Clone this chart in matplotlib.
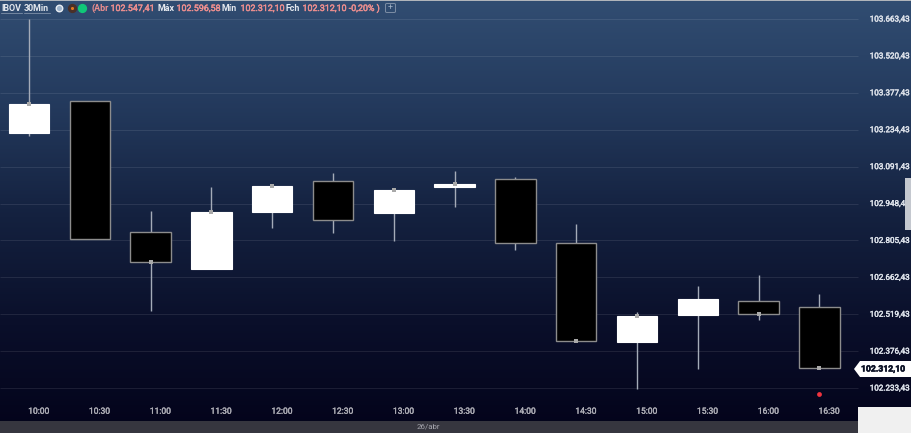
import numpy as np
import matplotlib
matplotlib.use("Agg")
import matplotlib.pyplot as plt
import matplotlib.patheffects as pe
from matplotlib.colors import LinearSegmentedColormap
from matplotlib.patches import Rectangle, Polygon, FancyBboxPatch
from matplotlib.lines import Line2D

plt.rcParams["font.family"] = ["Roboto", "DejaVu Sans"]

# Candles
times = ["10:00", "10:30", "11:00", "11:30", "12:00", "12:30", "13:00",
         "13:30", "14:00", "14:30", "15:00", "15:30", "16:00", "16:30"]
opens = [103222, 103346, 102838, 102695, 102915, 103036, 102912,
         103014, 103043, 102795, 102412, 102516, 102570, 102547.41]
closes = [103334, 102811, 102722, 102915, 103016, 102885, 103001,
          103024, 102795, 102416, 102512, 102578, 102520, 102312.10]
highs = [103663, 103346, 102919, 103012, 103024, 103067, 103009,
         103074, 103051, 102869, 102528, 102629, 102671, 102596.58]
lows = [103210, 102811, 102532, 102695, 102853, 102834, 102803,
        102935, 102768, 102416, 102230, 102307, 102497, 102312.10]
# candles that show the little grey close marker
has_marker = [1, 0, 1, 1, 1, 0, 1, 1, 0, 1, 1, 0, 1, 1]

grid_levels = [103663.43, 103520.43, 103377.43, 103234.43, 103091.43, 102948.43,
               102805.43, 102662.43, 102519.43, 102376.43, 102233.43]
grid_labels = ["103.663,43", "103.520,43", "103.377,43", "103.234,43", "103.091,43", "102.948,43",
               "102.805,43", "102.662,43", "102.519,43", "102.376,43", "102.233,43"]
last_price = 102312.10
last_label = "102.312,10"
signal_price = 102210

W, H = 911, 433
fig = plt.figure(figsize=(W / 100, H / 100), dpi=100)
ax = fig.add_axes([0, 0, 1, 1])

# background gradient
cmap = LinearSegmentedColormap.from_list(
    "bg", [(0, "#314d72"), (0.25, "#23395c"), (0.5, "#14213f"), (0.75, "#0a0f2a"), (1, "#03031a")])
ax.imshow(np.linspace(0, 1, 256).reshape(-1, 1), cmap=cmap, extent=[0, 1, 0, 1],
          transform=ax.transAxes, aspect="auto", zorder=0)

# pixel calibration: candle 0 at x=29, 60.8 px per candle, 143 points per 36.9 px
px_per_bar = 60.8
pts_per_px = 143 / 36.9
ax.set_xlim(-29 / px_per_bar, (W - 29) / px_per_bar)
ax.set_ylim(grid_levels[0] - (H - 19) * pts_per_px, grid_levels[0] + 19 * pts_per_px)
x_grid_end = (858 - 29) / px_per_bar

ax.hlines(grid_levels, ax.get_xlim()[0], x_grid_end, color="#ffffff", alpha=0.09, lw=0.8, zorder=1)

x = np.arange(len(times))
o = np.array(opens)
c = np.array(closes)
up = c >= o

ax.vlines(x, lows, highs, color="#a4abb8", lw=1, zorder=2)
ax.bar(x[up], np.abs(c - o)[up], bottom=np.minimum(o, c)[up], width=0.665,
       color="white", edgecolor="white", lw=0.8, zorder=3)
ax.bar(x[~up], np.abs(c - o)[~up], bottom=np.minimum(o, c)[~up], width=0.665,
       color="black", edgecolor="#8c8c8c", lw=1, zorder=3)

mask = np.array(has_marker) == 1
ax.scatter(x[mask], c[mask], marker="s", s=9, color="#a9a9a9", lw=0, zorder=4)
ax.scatter([x[-1]], [signal_price], marker="o", s=12, color="#f0333f", lw=0, zorder=4)

# axes ticks live inside the figure
for s in ax.spines.values():
    s.set_visible(False)
ax.yaxis.tick_right()
ax.set_yticks(grid_levels)
ax.set_yticklabels(grid_labels)
ax.tick_params(axis="y", length=0, pad=-29.7, labelsize=5.8, labelcolor="#dde2ea")
ax.set_xticks(x + 0.16)
ax.set_xticklabels(times)
ax.tick_params(axis="x", length=0, pad=-17.5, labelsize=6.1, labelcolor="#aeaeb6")
for lab in ax.get_yticklabels():
    lab.set_path_effects([pe.withStroke(linewidth=0.3, foreground="#dde2ea")])
for lab in ax.get_xticklabels():
    lab.set_path_effects([pe.withStroke(linewidth=0.25, foreground="#aeaeb6")])


def fx(px):
    return px / W


def fy(py):
    return 1 - py / H


def rect(x0, y0, x1, y1, color, z=5):
    fig.add_artist(Rectangle((fx(x0), fy(y1)), (x1 - x0) / W, (y1 - y0) / H, color=color, lw=0, zorder=z))


# bottom strip, corner, scroll handle, top edge
rect(0, 421, 858, 433, "#36363f")
rect(858, 407, 911, 433, "#f0f0f0")
rect(905, 178, 911, 230, "#c4c8cf")
rect(0, 0, 911, 1, "#b0b4ba")
fig.text(fx(428), fy(426.5), "26/abr", fontsize=5.7, color="#a5a5ad", ha="center", va="center", zorder=6)

# last price tag
ax.add_patch(Polygon([(fx(854), fy(369)), (fx(860), fy(361)), (fx(911), fy(361)), (fx(911), fy(377)), (fx(860), fy(377))],
                     closed=True, transform=fig.transFigure, color="white", lw=0, zorder=6, clip_on=False))
tag = ax.text(fx(861), fy(369), last_label, transform=fig.transFigure, fontsize=6.2, fontweight="bold",
              color="#0c1226", va="center", ha="left", zorder=7)
tag.set_path_effects([pe.withStroke(linewidth=0.4, foreground="#0c1226")])

# header
WHITE = "#e4e8ee"
SALMON = "#ee8f8f"
header = [(1, "IBOV", WHITE), (24, "30Min", WHITE), (91, "(Abr", SALMON), (110.5, "102.547,41", SALMON),
          (157, "Máx", WHITE), (176.5, "102.596,58", SALMON), (222, "Mín", WHITE), (240.5, "102.312,10", SALMON),
          (286, "Fch", WHITE), (302.5, "102.312,10 -0,20% )", SALMON)]
for hx, txt, col in header:
    bold = txt in ("IBOV", "30Min", "Máx", "Mín", "Fch", "(Abr")
    t = fig.text(fx(hx), fy(11), txt, fontsize=6.4, color=col, va="baseline", ha="left",
                 fontweight="bold" if bold else "normal", zorder=6)
    if not bold:
        t.set_path_effects([pe.withStroke(linewidth=0.3, foreground=col)])
fig.add_artist(Line2D([fx(1), fx(22)], [fy(12.5), fy(12.5)], color="#8fa0b5", lw=0.5, zorder=6))
fig.add_artist(Line2D([fx(24), fx(50)], [fy(12.5), fy(12.5)], color="#8fa0b5", lw=0.5, zorder=6))

# status icons
for cx, col, ec, size in [(58.5, "#9fb4cc", "#e8edf3", 22), (72, "#4a3028", "#4a3028", 32), (82, "#10c878", "#10c878", 32)]:
    ax.scatter([fx(cx)], [fy(8)], s=size, color=col, edgecolors=ec, linewidths=1.0,
               transform=fig.transFigure, zorder=6, clip_on=False)
ax.scatter([fx(72)], [fy(8)], s=5, color="#e07820", lw=0, transform=fig.transFigure, zorder=7, clip_on=False)
fig.add_artist(FancyBboxPatch((fx(385.5), fy(12.5)), 10 / W, 9 / H, boxstyle="round,pad=0,rounding_size=0.002",
                              fc="none", ec="#7d8ea5", lw=0.7, zorder=6))
fig.text(fx(390.5), fy(8), "+", fontsize=6.5, color="#9fb0c5", ha="center", va="center", zorder=6)

fig.savefig("out.png", dpi=100)
